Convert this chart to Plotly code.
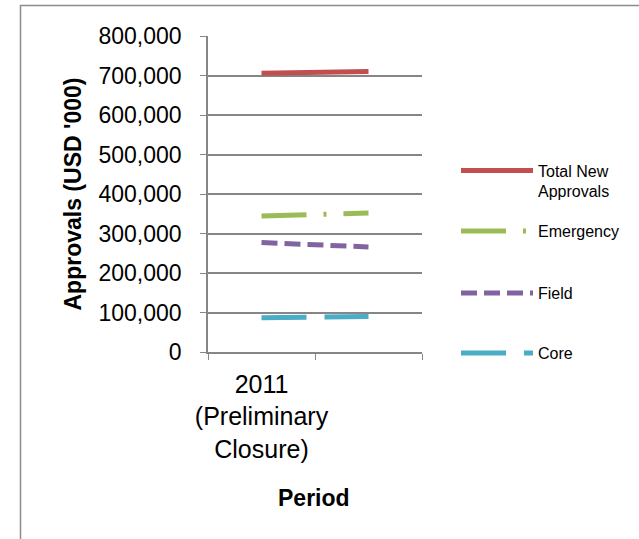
import plotly.graph_objects as go

categories = ["2011<br>(Preliminary<br>Closure)", " "]
series_names = ["Total New<br>Approvals", "Emergency", "Field", "Core"]
total_new = [706000, 710000]
emergency = [344000, 352000]
field = [277000, 266000]
core = [87000, 90000]
y_ticks = [0, 100000, 200000, 300000, 400000, 500000, 600000, 700000, 800000]
x_title = "Period"
y_title = "Approvals (USD '000)"

colors = ["#C0504D", "#9BBB59", "#8064A2", "#4BACC6"]
dashes = ["solid", "45px,17px,3px,17px", "16px,7px", "45px,18px,45px,18px"]
values = [total_new, emergency, field, core]
legend_ids = ["legend", "legend2", "legend3", "legend4"]
legend_screen_y = [181, 231, 293, 353]

FONT = "Liberation Sans"

# screen -> paper helpers (plot area on screen: x 208..422, y 36..352)
def px(sx):
    return (sx - 208) / 214

def py(sy):
    return (352 - sy) / 316

fig = go.Figure()
for i, (name, vals) in enumerate(zip(series_names, values)):
    fig.add_trace(go.Scatter(
        x=categories, y=vals, name=name, mode="lines",
        line=dict(color=colors[i], width=5, dash=dashes[i]),
        legend=legend_ids[i],
    ))

legend_common = dict(xanchor="left", yanchor="middle", valign="top",
                     font=dict(size=16, family=FONT), itemwidth=72,
                     bgcolor="rgba(0,0,0,0)")
layout_legends = {}
for lid, sy in zip(legend_ids, legend_screen_y):
    layout_legends[lid] = dict(x=px(456), y=py(sy), **legend_common)

fig.update_layout(
    width=639, height=539,
    margin=dict(l=208, r=217, t=36, b=187),
    paper_bgcolor="white", plot_bgcolor="white",
    font=dict(family=FONT, color="black"),
    showlegend=True,
    **layout_legends,
)
fig.update_xaxes(
    type="category", range=[-0.5, 1.5],
    showline=True, linecolor="#868686", linewidth=1.5,
    ticks="outside", tickson="boundaries", ticklen=6, tickcolor="#868686",
    tickfont=dict(size=25, family=FONT), tickangle=0, ticklabelstandoff=9,
    showgrid=False,
)
fig.update_yaxes(
    range=[0, 800000], tickvals=y_ticks,
    tickformat=",d",
    showline=True, linecolor="#868686", linewidth=1.5,
    ticks="outside", ticklen=6, tickcolor="#868686", ticklabelstandoff=14,
    showgrid=True, gridcolor="#868686", gridwidth=1.5,
    tickfont=dict(size=23, family=FONT),
    zeroline=False,
    title=dict(text=f"<b>{y_title}</b>", font=dict(size=23, family=FONT), standoff=10),
)
fig.add_annotation(text=f"<b>{x_title}</b>", xref="paper", yref="paper",
                   x=px(314), y=py(498), xanchor="center", yanchor="middle",
                   showarrow=False, font=dict(size=23, family=FONT))
fig.add_shape(type="rect", xref="paper", yref="paper",
              x0=px(20.5), x1=px(700), y0=py(600), y1=py(5.5),
              line=dict(color="#8C8C8C", width=1.5), fillcolor="rgba(0,0,0,0)", layer="below")

fig.write_html("out.html", config={"displayModeBar": False},
               post_script="document.body.style.margin='0px';")
